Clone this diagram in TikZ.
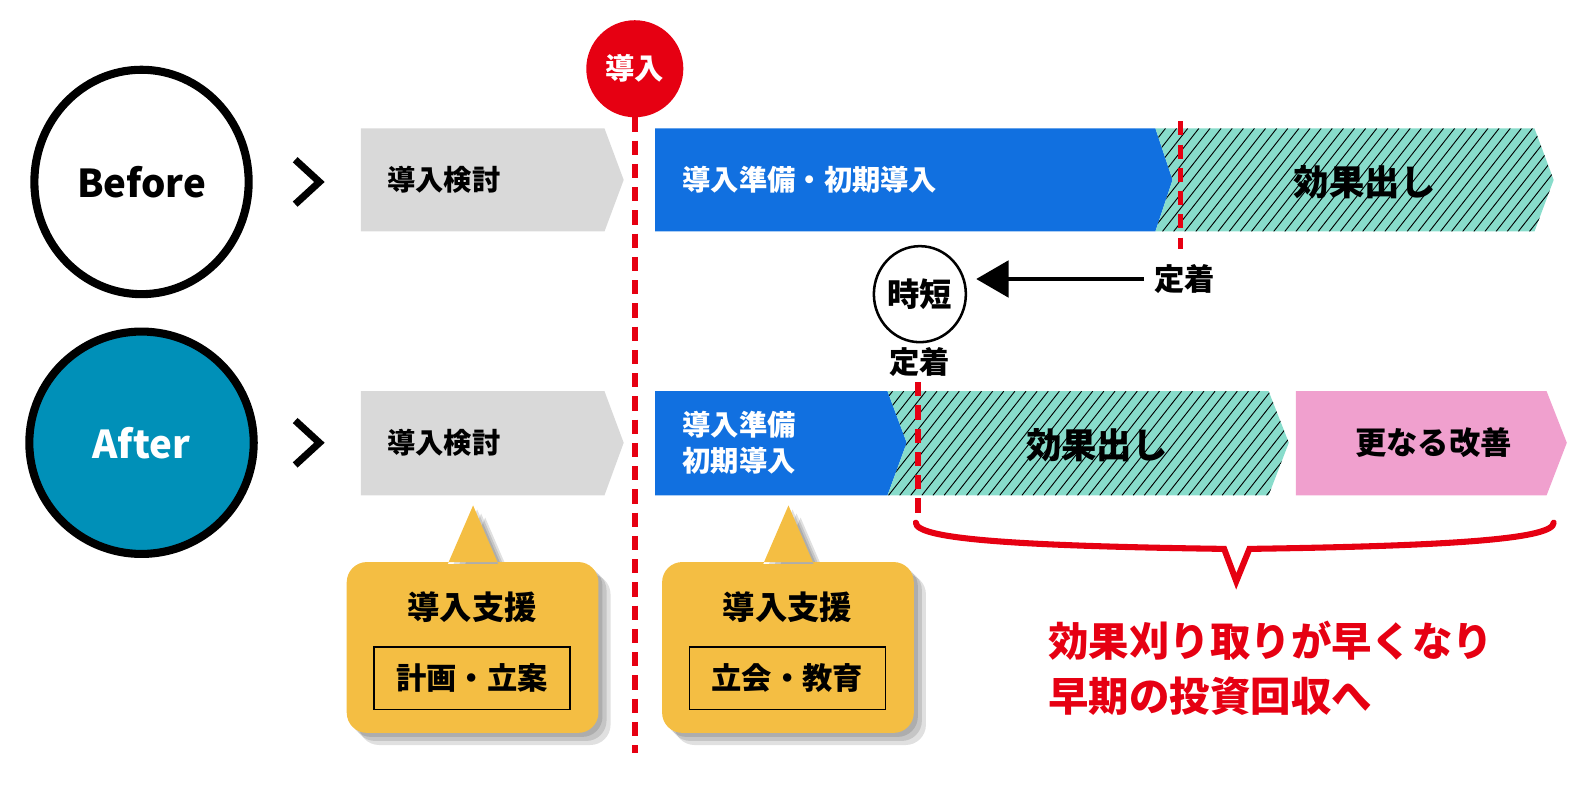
\documentclass[tikz,border=0pt]{standalone}
\usepackage{fontspec}
\setmainfont{Noto Sans CJK JP}
\usetikzlibrary{arrows.meta,shapes.geometric}
\definecolor{introred}{HTML}{E60012}
\definecolor{prepblue}{HTML}{1170E0}
\definecolor{effectteal}{HTML}{88DCCB}
\definecolor{kaizenpink}{HTML}{F0A0CE}
\definecolor{studygray}{HTML}{D9D9D9}
\definecolor{supportyellow}{HTML}{F4BE43}
\definecolor{afterblue}{HTML}{0090B8}
\newcommand{\jpsize}[2]{\bfseries\fontsize{#1}{#2}\selectfont}
\tikzset{
  sidecircle/.style={ellipse, draw=black, line width=8pt, inner sep=0pt, font=\jpsize{38}{42}},
  chevron/.style={line width=7pt, miter limit=10},
  phasetxt/.style={inner sep=0pt, align=left, font=\jpsize{28}{36}},
  effecttxt/.style={inner sep=0pt, font=\jpsize{35}{40}},
  hatchline/.style={line width=0.9pt},
  redline/.style={draw=introred, line width=5.5pt, dash pattern=on 14pt off 9pt},
  supporttitle/.style={inner sep=0pt, font=\jpsize{32}{36}},
  supportitem/.style={draw, line width=1.5pt, minimum width=194pt, minimum height=62pt, font=\jpsize{30}{34}},
}
\begin{document}
\begin{tikzpicture}[x=1pt,y=-1pt]
\useasboundingbox (0,0) rectangle (1568,777);

% Before / After
\node[sidecircle, minimum width=212pt, minimum height=222pt] (before) at (140,180) {Before};
\node[sidecircle, fill=afterblue, text=white, minimum width=222pt, minimum height=220pt] (after) at (140,438) {After};
\draw[chevron] (292,158) -- (316,180) -- (292,202);
\draw[chevron] (292,416) -- (316,438) -- (292,460);

% before row
\fill[studygray] (357,127) -- (598,127) -- (617,178) -- (598,229) -- (357,229) -- cycle;
\fill[prepblue] (648,127) -- (1143,127) -- (1160,178) -- (1143,229) -- (648,229) -- cycle;
\begin{scope}
  \clip (1143,127) -- (1518,127) -- (1537,178) -- (1518,229) -- (1143,229) -- (1160,178) -- cycle;
  \fill[effectteal] (1130,120) rectangle (1545,235);
  \foreach \hx in {1040,1051,...,1540} \draw[hatchline] (\hx,229) -- ++(80,-102);
\end{scope}
\node[phasetxt, anchor=west] (studyA) at (383,178) {導入検討};
\node[phasetxt, anchor=west, text=white] (prepA) at (675,178) {導入準備・初期導入};
\node[effecttxt] (effectA) at (1350,180) {効果出し};

% after row
\fill[studygray] (357,387) -- (598,387) -- (617,438) -- (598,490) -- (357,490) -- cycle;
\fill[prepblue] (648,387) -- (878,387) -- (897,438) -- (878,490) -- (648,490) -- cycle;
\begin{scope}
  \clip (878,387) -- (1255,387) -- (1275,438) -- (1255,490) -- (878,490) -- (897,438) -- cycle;
  \fill[effectteal] (870,380) rectangle (1280,495);
  \foreach \hx in {780,791,...,1280} \draw[hatchline] (\hx,490) -- ++(81,-103);
\end{scope}
\fill[kaizenpink] (1282,387) -- (1530,387) -- (1550,438) -- (1530,490) -- (1282,490) -- cycle;
\node[phasetxt, anchor=west] (studyB) at (383,438) {導入検討};
\node[phasetxt, anchor=west, text=white] (prepB) at (675,438) {導入準備\\初期導入};
\node[effecttxt] (effectB) at (1085,440) {効果出し};
\node[phasetxt, font=\jpsize{31}{36}] (kaizenB) at (1418,438) {更なる改善};

% introduction line
\node[circle, fill=introred, minimum size=96pt, inner sep=0pt, text=white, font=\jpsize{29}{32}] (intro) at (628,68) {導入};
\coordinate (introEnd) at (628,745);
\draw[redline] (intro.south) -- (introEnd);

% settle lines
\coordinate (settleTop) at (1168,120);
\coordinate (settleTopEnd) at (1168,246);
\draw[redline] (settleTop) -- (settleTopEnd);
\node[phasetxt, font=\jpsize{30}{34}] (fixR) at (1172,276) {定着};
\node[phasetxt, font=\jpsize{30}{34}] (fixB) at (910,358) {定着};
\coordinate (settleBot) at (908,378);
\coordinate (settleBotEnd) at (908,508);
\draw[redline] (settleBot) -- (settleBotEnd);

% shortening
\node[ellipse, draw, line width=2.5pt, minimum width=91pt, minimum height=95pt, inner sep=0pt, font=\jpsize{32}{36}] (jitan) at (910,291) {時短};
\draw[line width=4pt, -{Triangle[length=32pt,width=36pt]}, shorten <=10pt, shorten >=9pt] (fixR.west) -- (fixR.west -| jitan.east);

% support callouts
\foreach \bx/\itm [count=\k] in {343/計画・立案,655/立会・教育} {
  \foreach \s in {4,8,12}
    \fill[black, opacity=0.12, shift={(\s,\s)}, rounded corners=20pt] (\bx,556) rectangle ++(249,169) [sharp corners] (\bx+100,558) -- (\bx+125,500) -- (\bx+150,558) -- cycle;
  \fill[supportyellow, rounded corners=20pt] (\bx,556) rectangle ++(249,169) [sharp corners] (\bx+100,558) -- (\bx+125,500) -- (\bx+150,558) -- cycle;
  \node[supporttitle] (support\k) at (\bx+124,601) {導入支援};
  \node[supportitem] (item\k) at (\bx+124,671) {\itm};
}

% payoff brace
\draw[introred, line width=6pt, line cap=round] (906,517) .. controls (906,533) and (1000,540) .. (1211,543) -- (1223,575) -- (1236,543) .. controls (1440,540) and (1537,533) .. (1537,517);
\node[anchor=west, align=left, inner sep=0pt, text=introred, font=\jpsize{40}{54}] (payoff) at (1037,661) {効果刈り取りが早くなり\\早期の投資回収へ};
\end{tikzpicture}
\end{document}
